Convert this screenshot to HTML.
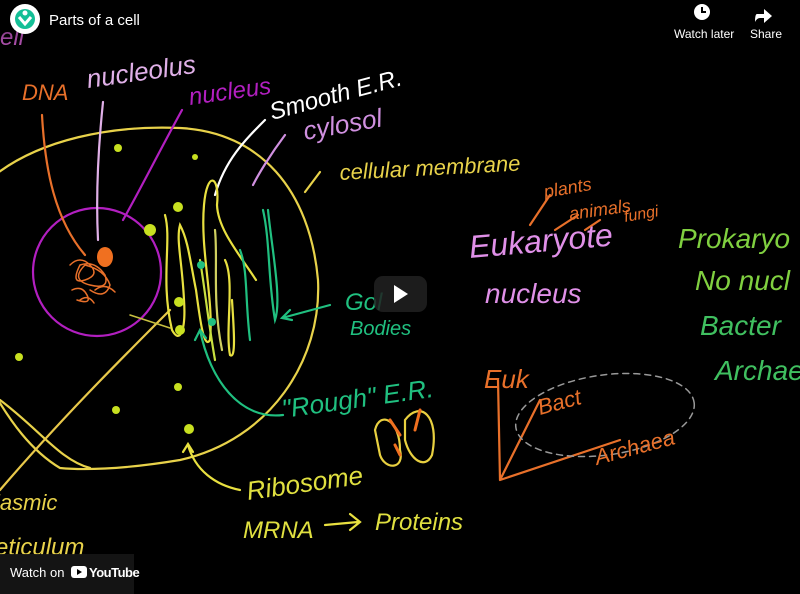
<!DOCTYPE html><html><head><style>
body{margin:0;background:#000;width:800px;height:594px;overflow:hidden;position:relative;font-family:"Liberation Sans",sans-serif}
svg{position:absolute;left:0;top:0}
.t{font-family:"Liberation Sans",sans-serif}
</style></head><body>
<svg width="800" height="594" viewBox="0 0 800 594">
<rect width="800" height="594" fill="#000"/>
<defs><linearGradient id="g" x1="0" y1="0" x2="0" y2="1"><stop offset="0" stop-color="#000" stop-opacity=".7"/><stop offset="1" stop-color="#000" stop-opacity="0"/></linearGradient></defs>
<g fill="none" stroke-width="2.2" stroke-linecap="round">
<path d="M-5,175 C40,140 110,125 180,128 C260,132 310,190 318,280 C322,360 270,440 180,460 C120,470 80,470 60,468 C30,450 10,420 -5,395" stroke="#e8d24a"/>
<path d="M0,400 C40,430 60,460 90,468" stroke="#e8d24a"/>
<path d="M0,490 C60,420 120,360 170,310" stroke="#e8c84a"/>
<circle cx="97" cy="272" r="64" stroke="#b21fc0"/>
<path d="M70,265 q10,-10 20,0 q10,10 -5,15 q-15,5 -5,-15 q15,-5 25,10 q5,15 -15,10 q-20,-5 -5,-20 q20,5 25,20 q-5,15 -20,5 M72,290 q10,-5 15,5 q5,10 -10,5 M95,290 q10,-8 20,2 M80,300 q8,-6 14,3" stroke="#e8702a" stroke-width="1.5"/>
<ellipse cx="105" cy="257" rx="8" ry="10" fill="#f07020" stroke="none"/>
<path d="M42,115 C45,170 55,220 85,255" stroke="#e8702a"/>
<path d="M103,102 C98,150 96,200 98,240" stroke="#e0b0e8"/>
<path d="M182,110 C160,150 140,190 123,220" stroke="#b21fc0"/>
<path d="M265,120 C245,140 225,160 215,195" stroke="#fff"/>
<path d="M285,135 C270,155 258,175 253,185" stroke="#d090e0"/>
<path d="M320,172 L305,192" stroke="#e8d24a"/>
<!-- ER folds -->
<path d="M165,215 C172,240 160,280 172,330 C180,345 186,330 184,300 C182,260 176,240 180,225 C188,240 190,260 196,290 C200,320 204,350 210,340 C214,300 200,250 204,205 C207,170 220,175 217,205 C218,230 240,255 256,280" stroke="#e8e040"/>
<path d="M225,260 C235,280 225,330 230,355 C236,360 234,330 232,300" stroke="#e8e040"/>
<path d="M215,230 C218,260 212,300 222,350" stroke="#d0d060"/>
<path d="M200,260 C205,290 208,320 215,360" stroke="#c8e040"/>
<path d="M263,210 C270,240 268,280 275,320 C282,300 272,250 268,210" stroke="#20c080"/>
<path d="M240,250 C248,270 245,300 250,340" stroke="#20c080"/>
<path d="M282,318 L330,305 M290,310 l-8,8 l10,2" stroke="#20c080"/>
<path d="M283,415 C240,420 210,380 200,330 M195,340 l5,-10 l6,8" stroke="#20c080"/>
<path d="M240,490 C215,485 195,470 188,445 M183,452 l5,-8 l5,8" stroke="#e8e040"/>
<path d="M130,315 L170,328" stroke="#c8c040" stroke-width="1.5"/>
<path d="M325,525 L358,522 M350,514 l10,8 l-10,8" stroke="#e8e040"/>
<path d="M375,430 C380,410 400,420 400,450 C405,470 385,470 380,455 Z M405,420 C420,400 440,415 432,455 C425,470 410,460 405,440 Z" stroke="#e8d040"/>
<path d="M390,420 l10,15 M420,410 l-5,20 M395,445 l5,10" stroke="#f07020" stroke-width="3"/>
<path d="M498,380 L500,480 L540,400 M500,480 L620,440" stroke="#e8702a"/>
<ellipse cx="605" cy="415" rx="90" ry="40" stroke="#999" stroke-dasharray="6,5" stroke-width="1.5" transform="rotate(-8 605 415)"/>
<path d="M530,225 L550,195 M555,230 L578,215 M585,230 L600,220" stroke="#e8702a"/>
</g>
<g fill="#c8e020">
<circle cx="118" cy="148" r="4"/><circle cx="195" cy="157" r="3"/><circle cx="178" cy="207" r="5"/><circle cx="150" cy="230" r="6"/>
<circle cx="180" cy="330" r="5"/><circle cx="179" cy="302" r="5"/><circle cx="19" cy="357" r="4"/><circle cx="178" cy="387" r="4"/>
<circle cx="116" cy="410" r="4"/><circle cx="189" cy="429" r="5"/>
</g>
<circle cx="201" cy="265" r="4" fill="#20c080"/><circle cx="212" cy="322" r="4" fill="#20c080"/>
<g class="t" font-style="italic">
<text x="0" y="45" fill="#d060d0" font-size="24">ell</text>
<text x="22" y="100" fill="#e8702a" font-size="22">DNA</text>
<text x="88" y="88" fill="#e0b0e8" font-size="26" transform="rotate(-8 88 88)">nucleolus</text>
<text x="190" y="105" fill="#b21fc0" font-size="24" transform="rotate(-8 190 105)">nucleus</text>
<text x="272" y="120" fill="#fff" font-size="24" transform="rotate(-15 272 120)">Smooth E.R.</text>
<text x="305" y="140" fill="#d090e0" font-size="26" transform="rotate(-10 305 140)">cylosol</text>
<text x="340" y="180" fill="#e8d24a" font-size="22" transform="rotate(-3 340 180)">cellular membrane</text>
<text x="545" y="198" fill="#e8702a" font-size="18" transform="rotate(-10 545 198)">plants</text>
<text x="570" y="220" fill="#e8702a" font-size="18" transform="rotate(-8 570 220)">animals</text>
<text x="625" y="222" fill="#e8702a" font-size="16" transform="rotate(-10 625 222)">fungi</text>
<text x="470" y="258" fill="#e090e8" font-size="32" transform="rotate(-5 470 258)">Eukaryote</text>
<text x="485" y="303" fill="#e090e8" font-size="28">nucleus</text>
<text x="678" y="248" fill="#80d040" font-size="28">Prokaryo</text>
<text x="695" y="290" fill="#80d040" font-size="28">No nucl</text>
<text x="700" y="335" fill="#40c060" font-size="28">Bacter</text>
<text x="715" y="380" fill="#40c060" font-size="28">Archae</text>
<text x="345" y="310" fill="#20c080" font-size="24">Gol</text>
<text x="350" y="335" fill="#20c080" font-size="20">Bodies</text>
<text x="283" y="418" fill="#20c080" font-size="26" transform="rotate(-8 283 418)">"Rough" E.R.</text>
<text x="248" y="500" fill="#e0e040" font-size="26" transform="rotate(-8 248 500)">Ribosome</text>
<text x="243" y="538" fill="#e0e040" font-size="24">MRNA</text>
<text x="375" y="530" fill="#e0e040" font-size="24">Proteins</text>
<text x="484" y="388" fill="#e8702a" font-size="26">Euk</text>
<text x="540" y="415" fill="#e8702a" font-size="22" transform="rotate(-15 540 415)">Bact</text>
<text x="597" y="465" fill="#e8702a" font-size="22" transform="rotate(-15 597 465)">Archaea</text>
<text x="-5" y="510" fill="#e8d24a" font-size="22">lasmic</text>
<text x="-5" y="555" fill="#e8d24a" font-size="24">eticulum</text>
</g>
<rect width="800" height="60" fill="url(#g)"/>
<circle cx="25" cy="19" r="15" fill="#fff"/>
<circle cx="25" cy="19" r="10" fill="#14bf96"/>
<path d="M19,17 l6,7 l6,-7" stroke="#fff" stroke-width="3" fill="none"/>
<circle cx="25" cy="13" r="2.5" fill="#fff"/>
<text x="49" y="25" fill="#fff" font-size="15">Parts of a cell</text>
<circle cx="702" cy="12" r="8" fill="#fff"/><path d="M702,7 v5 h4" stroke="#000" stroke-width="2" fill="none"/>
<text x="674" y="38" fill="#fff" font-size="12">Watch later</text>
<path d="M757,14 h7 v-5 l8,7 l-8,7 v-5 h-4 q-3,0 -5,4 q0,-8 2,-8z" fill="#fff"/>
<text x="750" y="38" fill="#fff" font-size="12">Share</text>
<rect x="374" y="276" width="53" height="36" rx="9" fill="#212121" opacity=".85"/>
<path d="M394,285 l14,9 l-14,9z" fill="#fff"/>
<rect x="0" y="554" width="134" height="40" fill="#161616" opacity=".9"/>
<text x="10" y="577" fill="#fff" font-size="13">Watch on</text>
<rect x="71" y="566" width="16" height="12" rx="3" fill="#fff"/>
<path d="M77,569 l5,3 l-5,3z" fill="#000"/>
<text x="89" y="577" fill="#fff" font-size="13" font-weight="bold" letter-spacing="-.5">YouTube</text>
</svg>
</body></html>
